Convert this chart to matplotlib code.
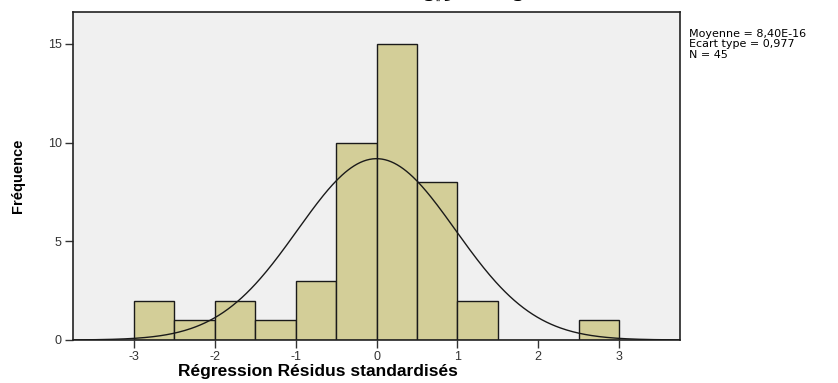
import numpy as np
import matplotlib.pyplot as plt

plt.rcParams['font.family'] = ['Liberation Sans', 'DejaVu Sans']

# standardized residual histogram (bin width 0.5)
bin_edges = [-3.0, -2.5, -2.0, -1.5, -1.0, -0.5, 0.0, 0.5, 1.0, 1.5, 2.0, 2.5, 3.0]
counts = [2, 1, 2, 1, 3, 10, 15, 8, 2, 0, 0, 1]
mean = 8.40e-16
std = 0.977
n = 45
xticks = [-3, -2, -1, 0, 1, 2, 3]
yticks = [0, 5, 10, 15]

fig = plt.figure(figsize=(8.38, 3.83), dpi=100)
ax = fig.add_axes([0.0871, 0.1123, 0.7244, 0.8564])
ax.set_facecolor('#F0F0F0')

lefts = np.array(bin_edges[:-1])
widths = np.diff(bin_edges)
ax.bar(lefts, counts, width=widths, align='edge', color='#D3CE98',
       edgecolor='#1a1a1a', linewidth=1.0, zorder=2)

# normal curve scaled to the histogram
xs = np.linspace(-3.8, 3.8, 400)
bw = 0.5
ys = n * bw / (std * np.sqrt(2 * np.pi)) * np.exp(-0.5 * ((xs - mean) / std) ** 2)
ax.plot(xs, ys, color='#1a1a1a', linewidth=1.0, zorder=3)

ax.set_xlim(-3.755, 3.755)
ax.set_ylim(0, 16.62)
ax.set_xticks(xticks)
ax.set_xticklabels([str(t) for t in xticks])
ax.set_yticks(yticks)
ax.tick_params(axis='both', direction='out', length=6, width=1, labelsize=9,
               color='#333333', labelcolor='#333333', pad=2)
for s in ax.spines.values():
    s.set_linewidth(1.2)
    s.set_color('#222222')

ax.set_xlabel('Régression Résidus standardisés', fontsize=12.5, fontweight='bold',
              va='center')
ax.xaxis.set_label_coords(0.404, -0.095)
ax.set_ylabel('Fréquence', fontsize=10.5, fontweight='bold')
ax.yaxis.set_label_coords(-0.079, 0.5)

fig.text(689 / 838, 1 - 29 / 383,
         'Moyenne = 8,40E-16\nEcart type = 0,977\nN = 45',
         fontsize=8, va='top', ha='left', linespacing=1.05,
         family=['DejaVu Sans'])

# title sits mostly above the top edge
fig.text(450 / 838, 1.016, 'المتغير التابع', fontsize=10.5, fontweight='bold',
         ha='center', va='center', family=['DejaVu Sans'])

fig.savefig('out.png', dpi=100)
